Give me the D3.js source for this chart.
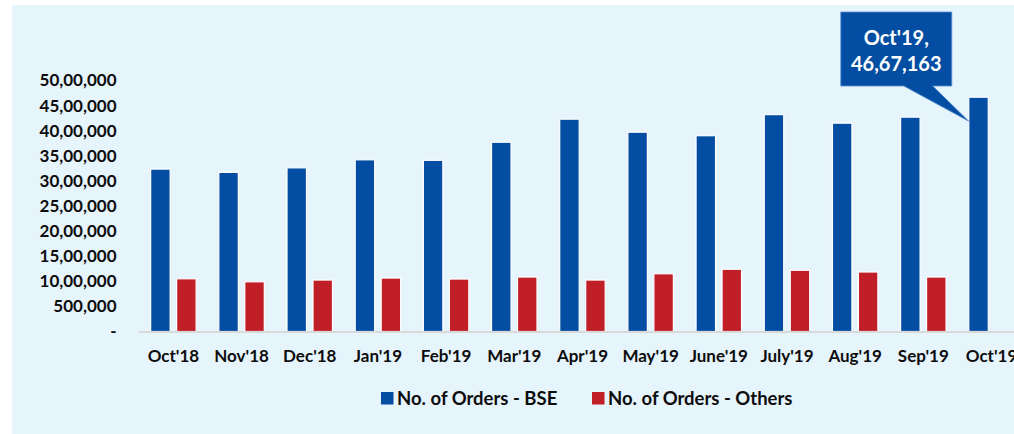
<!DOCTYPE html>
<html>
<head>
<meta charset="utf-8">
<script src="https://cdn.jsdelivr.net/npm/d3@7"></script>
<style>
  html, body { margin: 0; padding: 0; background: #ffffff; }
  svg { display: block; }
  text { font-family: Lato, "Open Sans", sans-serif; font-weight: 700; fill: #0d0d0d; }
</style>
</head>
<body>
<svg id="chart" width="1014" height="434"></svg>
<script>
// Monthly order counts
const months = ["Oct'18", "Nov'18", "Dec'18", "Jan'19", "Feb'19", "Mar'19", "Apr'19",
                "May'19", "June'19", "July'19", "Aug'19", "Sep'19", "Oct'19"];
const ordersBSE = [3235000, 3170000, 3260000, 3420000, 3410000, 3770000, 4230000,
                   3970000, 3900000, 4320000, 4150000, 4270000, 4667163];
const ordersOthers = [1050000, 990000, 1025000, 1065000, 1045000, 1085000, 1025000,
                      1150000, 1240000, 1220000, 1185000, 1085000, null];
const seriesNames = ["No. of Orders - BSE", "No. of Orders - Others"];
const seriesColors = ["#034ea2", "#c11f27"];
const yTickValues = [0, 500000, 1000000, 1500000, 2000000, 2500000, 3000000,
                     3500000, 4000000, 4500000, 5000000];
const yTickLabels = ["-", "500,000", "10,00,000", "15,00,000", "20,00,000", "25,00,000",
                     "30,00,000", "35,00,000", "40,00,000", "45,00,000", "50,00,000"];
const calloutLines = ["Oct'19,", "46,67,163"];

const svg = d3.select("#chart");

// panel background
svg.append("rect")
  .attr("x", 12).attr("y", 5)
  .attr("width", 1002).attr("height", 429)
  .attr("fill", "#e6f4fc");

const y = d3.scaleLinear().domain([0, 5000000]).range([331.5, 80.5]);

const x0 = d3.scaleBand().domain(months)
  .range([139.3, 1025.6]).paddingInner(0.333).paddingOuter(0.1665);
const x1 = d3.scaleBand().domain(seriesNames)
  .range([0, x0.bandwidth()]).paddingInner(0.25);

// y axis labels
const yAxis = d3.axisLeft(y).tickValues(yTickValues)
  .tickFormat((d, i) => yTickLabels[i]).tickSize(0).tickPadding(0);
const yg = svg.append("g").attr("transform", "translate(116.5,0)").call(yAxis);
yg.select(".domain").remove();
yg.selectAll("text").attr("font-size", 17).attr("font-family", "Lato").attr("font-weight", 700).attr("fill", "#0d0d0d");

// bars
const rows = months.map((m, i) => ({ month: m, values: [ordersBSE[i], ordersOthers[i]] }));
const groups = svg.append("g").selectAll("g").data(rows).join("g")
  .attr("transform", d => `translate(${x0(d.month)},0)`);
groups.selectAll("rect")
  .data(d => d.values.map((v, k) => ({ key: seriesNames[k], value: v, color: seriesColors[k] }))
    .filter(e => e.value != null))
  .join("rect")
  .attr("x", d => x1(d.key))
  .attr("y", d => y(d.value))
  .attr("width", x1.bandwidth())
  .attr("height", d => y(0) - y(d.value))
  .attr("fill", d => d.color)
  .attr("stroke", "#ffffff")
  .attr("stroke-width", 1.2);

// x axis baseline and labels
svg.append("line")
  .attr("x1", 139).attr("x2", 1014)
  .attr("y1", y(0) + 0.5).attr("y2", y(0) + 0.5)
  .attr("stroke", "#d9d9d9").attr("stroke-width", 2);

const xAxis = d3.axisBottom(x0).tickSize(0).tickPadding(0);
const xg = svg.append("g").attr("transform", `translate(0,${y(0)})`).call(xAxis);
xg.select(".domain").remove();
xg.selectAll("text").attr("dy", null).attr("y", 30)
  .attr("font-size", 17).attr("font-family", "Lato").attr("font-weight", 700).attr("fill", "#0d0d0d");

// legend
const legendX = [381, 592];
const legend = svg.append("g").selectAll("g").data(seriesNames).join("g")
  .attr("transform", (d, i) => `translate(${legendX[i]},392)`);
legend.append("rect").attr("width", 12.5).attr("height", 12.5)
  .attr("fill", (d, i) => seriesColors[i]);
legend.append("text").attr("x", 16).attr("y", 13)
  .attr("font-size", 18.5).text(d => d);

// callout on the latest month
const lastIdx = months.length - 1;
const tipX = x0(months[lastIdx]) + x1(seriesNames[0]);
const tipY = y(ordersBSE[lastIdx]) + 24;
const boxR = tipX - 17, boxL = boxR - 111, boxT = 12, boxB = 86;
const call = svg.append("g");
call.append("path")
  .attr("d", `M${boxL},${boxT} H${boxR} V${boxB} H${boxL + 92} L${tipX},${tipY} L${boxL + 63},${boxB} H${boxL} Z`)
  .attr("fill", "#034ea2")
  .attr("stroke", "#5b8fd0").attr("stroke-width", 0.8);
call.selectAll("text").data(calloutLines).join("text")
  .attr("x", (boxL + boxR) / 2)
  .attr("y", (d, i) => 44.5 + i * 26.5)
  .attr("text-anchor", "middle")
  .attr("font-size", 20)
  .style("fill", "#ffffff")
  .text(d => d);
</script>
</body>
</html>
